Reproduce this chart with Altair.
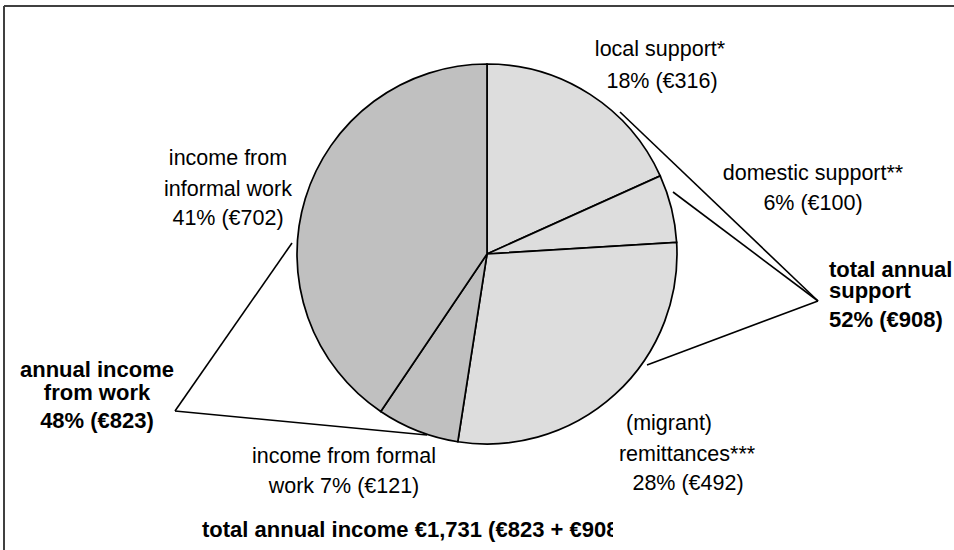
import altair as alt
import pandas as pd

# ---------------- data ----------------
categories = ["local support*", "domestic support**", "(migrant) remittances***",
              "income from formal work", "income from informal work"]
values = [316, 100, 492, 121, 702]
groups = ["support", "support", "support", "work", "work"]
slice_order = [1, 2, 3, 4, 5]

total = sum(values)
work_total = sum(v for v, g in zip(values, groups) if g == "work")
support_total = sum(v for v, g in zip(values, groups) if g == "support")
pct = [round(v / total * 100) for v in values]
work_pct = round(work_total / total * 100)
support_pct = round(support_total / total * 100)

# label lines for each slice
slice_label_lines = [
    ["local support*", f"{pct[0]}% (€{values[0]})"],
    ["domestic support**", f"{pct[1]}% (€{values[1]})"],
    ["(migrant)", "remittances***", f"{pct[2]}% (€{values[2]})"],
    ["income from formal", f"work {pct[3]}% (€{values[3]})"],
    ["income from", "informal work", f"{pct[4]}% (€{values[4]})"],
]
group_label_lines = [
    ["total annual", "support", f"{support_pct}% (€{support_total:,})"],
    ["annual income", "from work", f"{work_pct}% (€{work_total:,})"],
]
title_text = f"total annual income €{total:,} (€{work_total:,} + €{support_total:,})"

# ---------------- layout (pixels) ----------------
W, H = 954, 550
CX, CY, R = 487, 254, 190

slice_label_x = [[660, 662], [813, 813], [669, 687, 688], [344, 344], [228, 228, 228]]
slice_label_y = [[56, 88], [180, 210], [430, 461, 490], [463, 493], [165, 196, 225]]
group_label_x = [[829, 829, 829], [97, 97, 97]]
group_label_y = [[277, 298, 327], [377, 400, 428]]
group_label_align = ["left", "center"]

leader_x = [620, 673, 647, 292, 427]
leader_y = [112, 192, 365, 243, 435]
leader_x2 = [818, 818, 818, 175, 175]
leader_y2 = [301, 301, 301, 411, 411]

frame_x = [4, 4]
frame_y = [6, 6]
frame_x2 = [954, 4]
frame_y2 = [6, 550]

# white box that cuts the end of the footer text, as in the original
mask_x, mask_y, mask_x2, mask_y2 = [613], [510], [760], [548]

FONT = "Liberation Sans"
FS = 21.5
FSB = 22

xs = alt.Scale(domain=[0, W], range=[0, W], nice=False, zero=False)
ys = alt.Scale(domain=[0, H], range=[0, H], nice=False, zero=False)

# ---------------- tables ----------------
pie_df = pd.DataFrame({"category": categories, "value": values,
                       "group": groups, "order": slice_order})

normal_rows = []
for lines, lx, ly in zip(slice_label_lines, slice_label_x, slice_label_y):
    for t, x, y in zip(lines, lx, ly):
        normal_rows.append({"text": t, "x": x, "y": y})
normal_df = pd.DataFrame(normal_rows)

bold_left_rows, bold_center_rows = [], []
for lines, lx, ly, al in zip(group_label_lines, group_label_x, group_label_y, group_label_align):
    for t, x, y in zip(lines, lx, ly):
        (bold_left_rows if al == "left" else bold_center_rows).append({"text": t, "x": x, "y": y})
bold_left_df = pd.DataFrame(bold_left_rows)
bold_center_df = pd.DataFrame(bold_center_rows)

title_df = pd.DataFrame({"text": [title_text], "x": [202], "y": [537]})

leader_df = pd.DataFrame({"x": leader_x, "y": leader_y, "x2": leader_x2, "y2": leader_y2})
frame_df = pd.DataFrame({"x": frame_x, "y": frame_y, "x2": frame_x2, "y2": frame_y2})
mask_df = pd.DataFrame({"x": mask_x, "y": mask_y, "x2": mask_x2, "y2": mask_y2})

# ---------------- layers ----------------
pie = alt.Chart(pie_df).mark_arc(
    outerRadius=R, stroke="black", strokeWidth=1.7, strokeJoin="miter"
).encode(
    theta=alt.Theta("value:Q", stack=True),
    order=alt.Order("order:Q"),
    color=alt.Color("group:N",
                    scale=alt.Scale(domain=["support", "work"], range=["#dddddd", "#c0c0c0"]),
                    legend=None),
    x=alt.value(CX),
    y=alt.value(CY),
)

def pos():
    return dict(
        x=alt.X("x:Q", scale=xs, axis=None),
        y=alt.Y("y:Q", scale=ys, axis=None),
    )

frame = alt.Chart(frame_df).mark_rule(color="#404040", strokeWidth=2).encode(
    **pos(), x2="x2:Q", y2="y2:Q")

leaders = alt.Chart(leader_df).mark_rule(color="black", strokeWidth=1.6).encode(
    **pos(), x2="x2:Q", y2="y2:Q")

normal_text = alt.Chart(normal_df).mark_text(
    font=FONT, fontSize=FS, color="black", align="center", baseline="alphabetic"
).encode(**pos(), text="text:N")

bold_left_text = alt.Chart(bold_left_df).mark_text(
    font=FONT, fontSize=FSB, fontWeight="bold", color="black", align="left", baseline="alphabetic"
).encode(**pos(), text="text:N")

bold_center_text = alt.Chart(bold_center_df).mark_text(
    font=FONT, fontSize=FSB, fontWeight="bold", color="black", align="center", baseline="alphabetic"
).encode(**pos(), text="text:N")

title = alt.Chart(title_df).mark_text(
    font=FONT, fontSize=FSB, fontWeight="bold", color="black", align="left",
    baseline="alphabetic"
).encode(**pos(), text="text:N")

mask = alt.Chart(mask_df).mark_rect(color="white").encode(
    **pos(), x2="x2:Q", y2="y2:Q")

chart = alt.layer(
    pie, leaders, frame, normal_text, bold_left_text, bold_center_text, title, mask
).properties(
    width=W, height=H, padding=0, autosize="none", background="white"
).configure_view(stroke=None)

chart.save("out.html", embed_options={"renderer": "svg", "actions": False})
